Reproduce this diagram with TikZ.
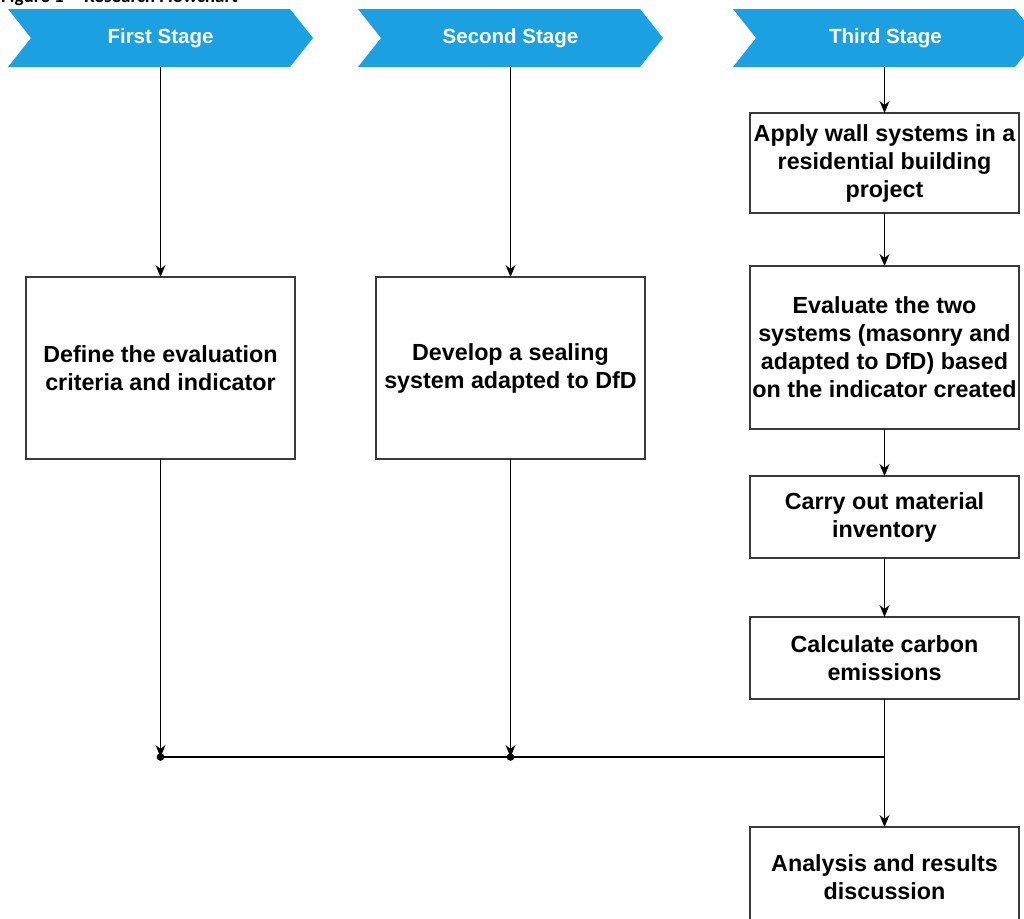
\documentclass[tikz,border=0pt]{standalone}
\usepackage{fontspec}
\setmainfont{Liberation Sans}
\newfontfamily\capfont{Carlito}
\usetikzlibrary{arrows.meta,calc}
\definecolor{stageblue}{HTML}{1BA1E2}
\definecolor{boxline}{HTML}{3A3A3A}
\tikzset{
  stagebox/.style={minimum width=305pt,minimum height=58pt,inner sep=0pt,outer sep=0pt,
    text=white,font=\bfseries\fontsize{20.5}{24}\selectfont},
  flowbox/.style={draw=boxline,line width=1.3pt,minimum width=269pt,inner sep=0pt,outer sep=0pt,
    align=center,font=\bfseries\fontsize{23.3}{28}\selectfont},
  conn/.style={line width=1.2pt,draw=black},
  arr/.style={conn,-{Stealth[length=12pt,width=10pt,inset=4pt]}},
}
\newcommand{\chevron}[1]{%
  \fill[stageblue] (#1.north west) -- ($(#1.north east)-(23,0)$) -- (#1.east)
    -- ($(#1.south east)-(23,0)$) -- (#1.south west) -- ($(#1.west)+(23,0)$) -- cycle;}
\begin{document}
\begin{tikzpicture}[x=1pt,y=-1pt]
\useasboundingbox (0,0) rectangle (1024,918);
\clip (0,0) rectangle (1024,918);
% caption (cut off at the top)
\node[anchor=base west,inner sep=0pt,font=\capfont\bfseries\fontsize{19}{22}\selectfont] (cap) at (1,2.5) {Figure 1 -- Research Flowchart};
% stage chevrons
\node[stagebox] (s1) at (160.5,38) {};
\node[stagebox] (s2) at (510.5,38) {};
\node[stagebox] (s3) at (885.5,38) {};
\chevron{s1}\chevron{s2}\chevron{s3}
\node[stagebox] (t1) at (s1) {First Stage};
\node[stagebox] (t2) at (s2) {Second Stage};
\node[stagebox] (t3) at (s3) {Third Stage};
% boxes
\node[flowbox,minimum height=182pt] (a) at (160.5,368) {Define the evaluation\\criteria and indicator};
\node[flowbox,minimum height=182pt] (b) at (510.5,368) {Develop a sealing\\system adapted to DfD};
\node[flowbox,minimum height=100pt] (c1) at (884.5,163) {Apply wall systems in a\\residential building\\project};
\node[flowbox,minimum height=163pt] (c2) at (884.5,347.5) {Evaluate the two\\systems (masonry and\\adapted to DfD) based\\on the indicator created};
\node[flowbox,minimum height=82pt] (c3) at (884.5,517) {Carry out material\\inventory};
\node[flowbox,minimum height=82pt] (c4) at (884.5,658) {Calculate carbon\\emissions};
\node[flowbox,minimum height=100pt] (c5) at (884.5,877) {Analysis and results\\discussion};
% junctions
\coordinate (j1) at (160.5,757);
\coordinate (j2) at (510.5,757);
\coordinate (j3) at (884.5,757);
% connectors
\draw[arr] (s1.south) -- (a.north);
\draw[arr] (s2.south) -- (b.north);
\draw[arr] (s3.south -| c1.north) -- (c1.north);
\draw[arr] (c1.south) -- (c2.north);
\draw[arr] (c2.south) -- (c3.north);
\draw[arr] (c3.south) -- (c4.north);
\draw[arr] (c4.south) -- (c5.north);
\draw[arr] (a.south) -- (j1);
\draw[arr] (b.south) -- (j2);
\draw[conn] (j1) -- (j3);
\fill (j1) circle (3.8pt);
\fill (j2) circle (3.8pt);
\end{tikzpicture}
\end{document}
